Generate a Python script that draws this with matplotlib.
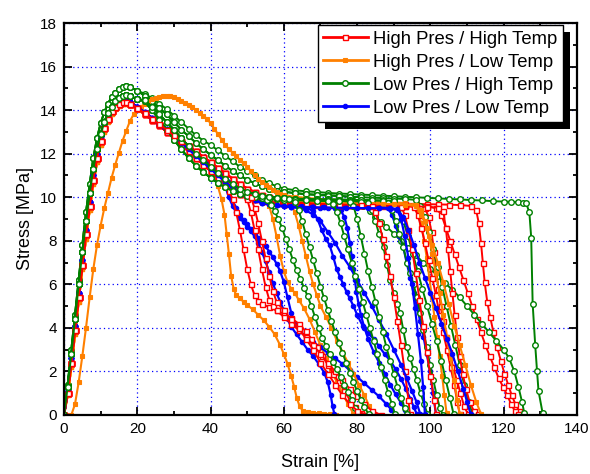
import matplotlib
matplotlib.use('Agg')
import matplotlib.pyplot as plt
from matplotlib.patches import Rectangle
from matplotlib.lines import Line2D
from matplotlib.ticker import MultipleLocator

plt.rcParams['font.family'] = ['Liberation Sans', 'DejaVu Sans']

# ---------------- data (strain %, stress MPa) ----------------
rise_x = [0, 1, 2, 3, 4, 5, 6, 7, 8, 9, 10, 11, 12, 13, 14, 15, 16, 17, 18, 20]
red_rise_y = [0, 1.0, 2.4, 3.9, 5.4, 6.9, 8.3, 9.6, 10.8, 11.8, 12.6, 13.2, 13.6, 13.95, 14.15, 14.3, 14.35, 14.35, 14.3, 14.1]
orange_rise_y = [0, 0.9, 2.2, 3.7, 5.2, 6.7, 8.1, 9.4, 10.6, 11.6, 12.4, 13.0, 13.45, 13.8, 14.05, 14.2, 14.3, 14.3, 14.25, 14.05]
green_rise_hi_y = [0, 1.4, 3.0, 4.6, 6.2, 7.8, 9.3, 10.6, 11.8, 12.7, 13.4, 13.9, 14.3, 14.6, 14.8, 14.95, 15.05, 15.1, 15.05, 14.9]
green_rise_lo_y = [0, 1.3, 2.8, 4.4, 6.0, 7.5, 8.9, 10.2, 11.3, 12.2, 12.9, 13.45, 13.85, 14.15, 14.4, 14.55, 14.65, 14.7, 14.65, 14.5]
blue_rise_y = [0, 1.1, 2.6, 4.1, 5.6, 7.1, 8.5, 9.8, 11.0, 12.0, 12.8, 13.35, 13.75, 14.05, 14.25, 14.35, 14.4, 14.4, 14.35, 14.15]

# post-peak softening (strain 22..60)
decl_x = [22, 24, 26, 28, 30, 32, 34, 36, 38, 40, 42, 44, 46, 48, 50, 52, 54, 56, 58, 60]
red_decl_a_y = [13.85, 13.6, 13.35, 13.1, 12.85, 12.6, 12.35, 12.1, 11.85, 11.6, 11.35, 11.1, 10.85, 10.6, 10.4, 10.25, 10.1, 10.0, 9.9, 9.85]
red_decl_b_y = [13.8, 13.55, 13.3, 13.0, 12.7, 12.4, 12.1, 11.8, 11.5, 11.2, 10.9, 10.6, 10.35, 10.15, 10.0, 9.9, 9.82, 9.77, 9.73, 9.7]
orange_decl_y = [13.8, 13.55, 13.3, 13.05, 12.8, 12.55, 12.3, 12.0, 11.7, 11.4, 11.1, 10.8, 10.55, 10.35, 10.2, 10.08, 10.0, 9.95, 9.9, 9.87]
green_decl_hi_y = [14.75, 14.55, 14.3, 14.05, 13.75, 13.45, 13.15, 12.85, 12.6, 12.4, 12.15, 11.9, 11.65, 11.4, 11.2, 11.0, 10.8, 10.65, 10.5, 10.4]
green_decl_mid_y = [14.65, 14.4, 14.1, 13.8, 13.45, 13.1, 12.8, 12.5, 12.2, 11.95, 11.7, 11.45, 11.2, 11.0, 10.8, 10.65, 10.5, 10.4, 10.3, 10.25]
green_decl_lo_y = [14.45, 14.15, 13.8, 13.45, 13.1, 12.7, 12.35, 12.0, 11.7, 11.4, 11.1, 10.85, 10.6, 10.4, 10.25, 10.15, 10.07, 10.02, 9.98, 9.95]
green_decl_lo2_y = [14.4, 14.0, 13.55, 13.1, 12.65, 12.2, 11.8, 11.45, 11.15, 10.9, 10.65, 10.45, 10.3, 10.15, 10.05, 10.0, 9.95, 9.92, 9.9, 9.88]
blue_decl_a_y = [13.9, 13.65, 13.4, 13.15, 12.9, 12.62, 12.35, 12.07, 11.8, 11.5, 11.2, 10.9, 10.62, 10.38, 10.17, 10.0, 9.87, 9.77, 9.7, 9.65]
blue_decl_b_y = [13.85, 13.6, 13.33, 13.05, 12.78, 12.5, 12.2, 11.9, 11.6, 11.3, 11.0, 10.7, 10.42, 10.2, 10.0, 9.85, 9.75, 9.67, 9.62, 9.58]

# High Pres / High Temp (red) - plateau and failure
r1_x = [63, 66, 69, 72, 75, 78, 81, 84, 87, 90, 93, 96, 99, 102, 105, 108, 111, 112.5, 113.2, 113.8, 114.3, 114.8, 115.5, 116.3, 117.2, 118.2, 119.2, 120.2, 121.2, 122.2, 123.2, 124.2, 125]
r1_y = [9.82, 9.8, 9.78, 9.76, 9.75, 9.74, 9.73, 9.72, 9.71, 9.7, 9.7, 9.69, 9.68, 9.67, 9.66, 9.64, 9.6, 9.4, 8.8, 7.9, 7.0, 6.1, 5.2, 4.5, 3.8, 3.1, 2.5, 1.9, 1.4, 0.9, 0.5, 0.2, 0.05]
r2_x = [63, 66, 69, 72, 75, 78, 81, 84, 87, 90, 93, 96, 99, 101.5, 103, 104.2, 105.4, 106.6, 107.8, 109, 110.2, 111.4, 112.6, 113.8, 115, 116.2, 117.4, 118.6, 119.8, 121, 122, 123, 123.8]
r2_y = [9.75, 9.72, 9.7, 9.69, 9.68, 9.67, 9.66, 9.65, 9.64, 9.63, 9.62, 9.6, 9.58, 9.5, 9.2, 8.6, 8.0, 7.4, 6.8, 6.2, 5.6, 5.0, 4.4, 3.8, 3.2, 2.7, 2.2, 1.7, 1.3, 0.9, 0.5, 0.2, 0.05]
r3_x = [63, 66, 69, 72, 75, 78, 81, 84, 87, 90, 93, 96, 98.5, 99.5, 100.3, 101, 101.6, 102.2, 102.8, 103.5, 104.3, 105.2, 106.2, 107.2, 108.2, 109.2, 110.2]
r3_y = [9.72, 9.7, 9.68, 9.67, 9.66, 9.65, 9.64, 9.63, 9.62, 9.61, 9.6, 9.58, 9.5, 9.1, 8.4, 7.5, 6.6, 5.8, 5.0, 4.3, 3.6, 2.9, 2.2, 1.6, 1.0, 0.4, 0.05]
r4_x = [63, 66, 69, 72, 75, 78, 81, 84, 87, 90, 93, 96, 99, 102, 103.5, 104.2, 104.8, 105.4, 106, 106.6, 107.3, 108, 108.8, 109.7, 110.7, 111.8, 112.9]
r4_y = [9.7, 9.68, 9.66, 9.65, 9.64, 9.63, 9.62, 9.61, 9.6, 9.6, 9.59, 9.58, 9.56, 9.52, 9.35, 8.6, 7.6, 6.6, 5.6, 4.6, 3.6, 2.7, 1.9, 1.2, 0.6, 0.2, 0.03]
r5_x = [63, 66, 69, 72, 75, 78, 81, 84, 87, 90, 93, 95.5, 96.5, 97.5, 98.5, 99.5, 100.5, 101.5, 102.5, 103.5, 104.5, 105.5, 106.5, 107.3, 108]
r5_y = [9.78, 9.74, 9.71, 9.69, 9.68, 9.67, 9.66, 9.65, 9.64, 9.63, 9.62, 9.55, 9.2, 8.6, 7.9, 7.1, 6.3, 5.5, 4.6, 3.8, 3.0, 2.2, 1.4, 0.6, 0.05]
r6_x = [63, 66, 69, 72, 75, 78, 81, 84, 87, 90, 92, 93, 94, 95, 96, 97, 98, 99, 100, 101, 101.5]
r6_y = [9.75, 9.72, 9.7, 9.68, 9.66, 9.65, 9.64, 9.63, 9.62, 9.6, 9.55, 9.2, 8.5, 7.6, 6.5, 5.3, 4.1, 2.9, 1.8, 0.7, 0.05]
r7_x = [63, 66, 69, 72, 75, 78, 81, 84, 85, 86, 87, 88, 89, 90, 91, 92, 93, 94, 94.4]
r7_y = [9.75, 9.72, 9.7, 9.68, 9.66, 9.65, 9.63, 9.58, 9.3, 8.8, 8.1, 7.3, 6.4, 5.4, 4.3, 3.2, 2.0, 0.7, 0.05]
r8_x = [45, 46, 47, 48, 49, 50, 51, 52, 53, 54, 56, 58, 60, 62, 64, 66, 67.5, 69, 70.5, 72, 73.5, 75, 76.5, 78, 79.5, 81, 81.6]
r8_y = [10.3, 9.9, 9.3, 8.5, 7.6, 6.7, 6.0, 5.5, 5.25, 5.1, 4.95, 4.8, 4.65, 4.45, 4.2, 3.85, 3.5, 3.1, 2.7, 2.3, 1.9, 1.5, 1.1, 0.7, 0.35, 0.08, 0.0]
r9_x = [49, 50, 51, 52, 53, 54, 55, 56, 57, 58, 60, 62, 64, 66, 68, 70, 72, 74, 76, 78, 80, 82, 84, 86.5]
r9_y = [10.3, 9.9, 9.3, 8.5, 7.6, 6.7, 5.9, 5.3, 5.0, 4.8, 4.5, 4.2, 3.9, 3.6, 3.2, 2.8, 2.4, 2.0, 1.6, 1.2, 0.85, 0.5, 0.2, 0.0]
r10_x = [51, 52, 53, 54, 55, 56, 57, 58, 60, 62, 64, 66, 68, 70, 72, 74, 76, 78, 80, 82.5]
r10_y = [10.0, 9.5, 8.8, 8.0, 7.2, 6.4, 5.7, 5.2, 4.8, 4.4, 4.0, 3.5, 3.0, 2.4, 1.9, 1.4, 0.9, 0.5, 0.2, 0.0]

# High Pres / Low Temp (orange)
o1_x = [41, 42, 43, 43.8, 44.4, 45, 45.6, 46.3, 47, 48, 49, 50, 51.5, 53, 54.5, 56, 57.5, 59, 60, 61, 62, 62.8, 63.5, 64.3, 65.2, 66.5, 68, 69.5, 71, 72.5, 74.3]
o1_y = [11.0, 10.5, 9.9, 9.2, 8.3, 7.4, 6.4, 5.8, 5.5, 5.35, 5.2, 5.05, 4.85, 4.6, 4.35, 4.05, 3.7, 3.2, 2.8, 2.35, 1.8, 1.3, 0.8, 0.4, 0.18, 0.12, 0.1, 0.08, 0.06, 0.04, 0.02]
o2_x = [55, 56, 57, 58, 59, 60, 61, 62, 63, 64, 65.5, 67, 68.5, 70, 71.5, 73, 74.5, 76, 77.5, 79]
o2_y = [9.9, 9.6, 9.0, 8.2, 7.3, 6.6, 6.1, 5.8, 5.6, 5.3, 4.9, 4.4, 3.8, 3.2, 2.6, 2.0, 1.5, 1.0, 0.5, 0.05]
o3_x = [61, 62, 63, 64, 65, 66, 67, 68, 69, 70, 71.5, 73, 74.5, 76, 77.5, 79, 80.5, 82, 83.3, 84.6]
o3_y = [9.85, 9.7, 9.3, 8.7, 8.0, 7.3, 6.6, 6.0, 5.5, 5.0, 4.5, 4.0, 3.4, 2.9, 2.4, 1.9, 1.4, 0.9, 0.4, 0.05]
o4_x = [2, 3, 4, 5, 6, 7, 8, 9, 10, 11, 12, 13, 14, 15, 16, 17, 18, 19, 20, 21, 22, 23, 24, 25, 26, 27, 28, 29, 30,
        31, 32, 33, 34, 35, 36, 37, 38, 39, 40, 41, 42, 43, 44, 45, 46, 47, 48, 49, 50, 51, 52, 53, 54, 55, 56, 57, 58, 59, 60,
        63, 66, 69, 72, 75, 78, 81, 84, 87, 90, 93, 95.5, 96.5, 97.5, 98.3, 99, 99.7, 100.4, 101.1, 101.8, 102.5, 103.2, 103.8, 104.4]
o4_y = [0, 0.5, 1.5, 2.7, 4.0, 5.4, 6.7, 7.8, 8.7, 9.5, 10.2, 10.9, 11.5, 12.05, 12.6, 13.05, 13.5, 13.8, 14.0, 14.15, 14.3, 14.4, 14.5, 14.55, 14.6, 14.63, 14.65, 14.63, 14.58,
        14.5, 14.42, 14.34, 14.25, 14.13, 14.0, 13.88, 13.75, 13.6, 13.4, 13.15, 12.9, 12.65, 12.4, 12.2, 12.05, 11.88, 11.7, 11.55, 11.4, 11.2, 11.0, 10.85, 10.7, 10.57, 10.45, 10.35, 10.25, 10.17, 10.1,
        10.02, 9.97, 9.93, 9.9, 9.87, 9.85, 9.82, 9.8, 9.78, 9.76, 9.73, 9.65, 9.4, 8.8, 8.0, 7.2, 6.3, 5.4, 4.5, 3.6, 2.7, 1.8, 0.9, 0.1]
o5_x = [63, 66, 69, 72, 75, 78, 81, 84, 87, 90, 93, 96, 97.5, 98.5, 99.5, 100.5, 101.5, 102.5, 103.5, 104.5, 105.5, 106.5, 107.3, 108]
o5_y = [9.83, 9.8, 9.78, 9.76, 9.74, 9.72, 9.71, 9.7, 9.69, 9.68, 9.66, 9.62, 9.4, 8.9, 8.2, 7.4, 6.5, 5.6, 4.6, 3.6, 2.6, 1.6, 0.7, 0.05]
o6_x = [63, 66, 69, 72, 75, 78, 81, 84, 87, 90, 93, 96, 97.5, 99, 100.5, 102, 103.5, 105, 106.5, 108, 109.5, 111, 112.5, 113.8]
o6_y = [9.85, 9.82, 9.8, 9.78, 9.76, 9.74, 9.72, 9.71, 9.7, 9.68, 9.66, 9.6, 9.2, 8.6, 7.8, 7.0, 6.1, 5.1, 4.1, 3.2, 2.3, 1.4, 0.6, 0.05]

# Low Pres / High Temp (green)
g1_x = [63, 66, 69, 72, 75, 78, 81, 84, 87, 90, 93, 96, 99, 102, 105, 108, 111, 114, 117, 120, 122, 124, 125.2, 126.1, 127, 127.5, 127.9, 128.6, 129.1, 129.5, 130.6]
g1_y = [10.32, 10.27, 10.24, 10.2, 10.17, 10.15, 10.12, 10.1, 10.07, 10.05, 10.02, 10.0, 9.97, 9.95, 9.92, 9.9, 9.87, 9.85, 9.82, 9.8, 9.79, 9.77, 9.75, 9.74, 9.3, 8.15, 5.1, 3.2, 2.0, 1.1, 0.1]
g2_x = [63, 66, 69, 72, 75, 78, 80, 81.7, 83.5, 85, 86.5, 88, 90, 92, 94, 96, 98, 100, 102, 104, 106, 108, 110, 112, 114, 116, 118, 120, 121.5, 122.9, 124, 125, 125.6]
g2_y = [10.2, 10.15, 10.12, 10.1, 10.07, 10.03, 9.9, 9.6, 9.35, 9.1, 8.88, 8.65, 8.33, 8.0, 7.68, 7.35, 7.0, 6.7, 6.4, 6.05, 5.75, 5.4, 5.0, 4.6, 4.2, 3.8, 3.4, 3.0, 2.6, 2.0, 1.3, 0.6, 0.1]
g3_x = [63, 66, 69, 72, 75, 78, 81, 84, 87, 90, 93, 96, 97.2, 98.4, 99.6, 100.8, 102, 103.2, 104.4, 105.6, 106.8, 108, 109.2, 110.4, 111.5]
g3_y = [10.18, 10.13, 10.1, 10.07, 10.05, 10.02, 10.0, 9.98, 9.96, 9.94, 9.92, 9.88, 9.6, 9.1, 8.4, 7.6, 6.8, 5.9, 5.0, 4.1, 3.2, 2.3, 1.4, 0.6, 0.05]
g4_x = [63, 66, 69, 72, 75, 78, 81, 84, 87, 90, 91.3, 92.6, 93.9, 95.2, 96.5, 97.8, 99.1, 100.4, 101.7, 103, 104.2, 105.3, 106.3]
g4_y = [9.93, 9.92, 9.9, 9.9, 9.89, 9.88, 9.87, 9.86, 9.85, 9.82, 9.5, 8.9, 8.2, 7.4, 6.6, 5.8, 5.0, 4.2, 3.4, 2.5, 1.6, 0.8, 0.05]
g5_x = [63, 66, 69, 72, 75, 78, 81, 84, 87, 88.5, 89.5, 90.5, 91.5, 92.6, 93.6, 94.5, 95.4, 96.3, 97.2, 98.1, 99, 99.9, 100.8, 101.7, 102.6, 103.4]
g5_y = [9.93, 9.92, 9.9, 9.9, 9.89, 9.88, 9.87, 9.86, 9.84, 9.75, 9.4, 8.9, 8.3, 7.7, 7.0, 6.5, 6.0, 5.4, 4.7, 3.9, 3.1, 2.3, 1.6, 0.9, 0.3, 0.02]
g6_x = [63, 66, 69, 72, 75, 78, 81, 83, 84, 85, 86, 87.2, 88.1, 89, 90, 91, 91.7, 92.6, 93.5, 94.5, 95.4, 96.3, 97.3, 98.3, 99.2]
g6_y = [9.87, 9.86, 9.85, 9.84, 9.83, 9.82, 9.8, 9.72, 9.4, 8.9, 8.3, 7.7, 6.9, 6.2, 5.6, 5.1, 4.7, 3.9, 3.1, 2.6, 2.1, 1.6, 1.0, 0.5, 0.03]
g7_x = [63, 66, 69, 72, 75, 78, 79, 80, 81, 82, 83, 84, 85, 86, 87, 88, 89, 90, 91, 92, 93, 93.5]
g7_y = [9.93, 9.9, 9.88, 9.86, 9.84, 9.8, 9.6, 9.0, 8.2, 7.4, 6.6, 5.9, 5.2, 4.5, 3.8, 3.1, 2.5, 1.9, 1.3, 0.8, 0.3, 0.05]
g8_x = [63, 66, 69, 72, 73.5, 74.5, 75.5, 76.5, 77.5, 78.5, 79.5, 80.5, 81.5, 82.5, 83.5, 84.5, 85.5, 86.5, 87.5, 88.5, 89.5, 90.3]
g8_y = [9.87, 9.85, 9.84, 9.82, 9.7, 9.3, 8.8, 8.2, 7.6, 7.0, 6.4, 5.8, 5.2, 4.6, 4.0, 3.4, 2.8, 2.2, 1.6, 1.0, 0.5, 0.05]
g9_x = [55.5, 56.5, 57.5, 58.5, 59.5, 60.5, 61.5, 62.5, 63.5, 64.5, 65.5, 66.5, 67.5, 68.5, 69.5, 70.5, 71.5, 72.5, 73.5, 74.5, 75.5, 76.5, 77.5, 78.5, 79.5, 80.2]
g9_y = [9.85, 9.65, 9.35, 9.0, 8.6, 8.1, 7.6, 7.1, 6.65, 6.25, 5.85, 5.45, 5.0, 4.5, 4.0, 3.55, 3.15, 2.8, 2.45, 2.1, 1.75, 1.4, 1.05, 0.7, 0.3, 0.03]
g10_x = [61.5, 63, 64, 65, 66, 67, 68, 69, 70, 71, 72, 73, 74, 75, 76, 77, 78, 79, 80, 81, 82, 83.2]
g10_y = [9.93, 9.8, 9.4, 8.9, 8.3, 7.7, 7.1, 6.5, 5.9, 5.35, 4.8, 4.3, 3.8, 3.3, 2.85, 2.4, 1.95, 1.5, 1.1, 0.7, 0.35, 0.03]

# Low Pres / Low Temp (blue)
b1_x = [43, 44, 45, 46, 47, 48, 49, 50, 51, 52, 53, 54, 55, 56, 57, 58, 59, 60, 61, 62, 63.5, 65, 66.5, 68, 69.5, 71, 72, 72.8, 73.3, 73.8]
b1_y = [10.9, 10.5, 10.0, 9.6, 9.3, 9.05, 8.85, 8.65, 8.45, 8.2, 7.9, 7.5, 7.05, 6.55, 6.05, 5.6, 5.2, 4.8, 4.4, 4.05, 3.7, 3.35, 3.0, 2.7, 2.35, 1.95, 1.5, 0.9, 0.4, 0.03]
b2_x = [45, 46, 47, 48, 49, 50, 51, 52, 53, 54, 55, 56, 57, 58, 59, 60, 61, 62, 63, 64.5, 66, 68, 70, 72, 74, 76, 78, 80, 82, 84, 86, 88, 89.3, 90.3]
b2_y = [10.3, 9.85, 9.5, 9.2, 8.95, 8.75, 8.55, 8.35, 8.15, 7.95, 7.75, 7.5, 7.25, 6.95, 6.6, 6.1, 5.4, 4.7, 4.2, 3.85, 3.6, 3.35, 3.1, 2.85, 2.6, 2.35, 2.05, 1.75, 1.45, 1.15, 0.85, 0.5, 0.25, 0.02]
b3_x = [62, 64, 66, 68, 69.2, 70.3, 71.4, 72.5, 73.5, 74.4, 75.3, 76.2, 77.1, 78, 79, 80, 81.5, 83, 84.5, 86, 87.5, 89, 90.5, 92, 93.3, 94.5, 95.5, 96.3]
b3_y = [9.62, 9.6, 9.55, 9.35, 9.0, 8.5, 8.1, 7.8, 7.25, 6.7, 6.35, 6.0, 5.65, 5.35, 5.0, 4.6, 4.1, 3.75, 3.5, 3.15, 2.8, 2.5, 2.1, 1.65, 1.2, 0.75, 0.35, 0.03]
b4_x = [62, 64, 66, 68, 70, 72, 74, 75.5, 76.5, 77.3, 78, 78.5, 78.9, 79.4, 79.8, 80.4, 81, 82, 83, 84.5, 86, 87.5, 89, 90.5, 92, 93, 94]
b4_y = [9.56, 9.55, 9.54, 9.53, 9.52, 9.51, 9.5, 9.4, 9.1, 8.6, 7.9, 7.3, 6.7, 6.2, 5.65, 5.1, 4.6, 4.0, 3.5, 2.9, 2.4, 1.9, 1.4, 0.95, 0.55, 0.25, 0.02]
b5_x = [62, 65, 68, 71, 74, 77, 80, 83, 86, 88.5, 89.5, 90.5, 91.5, 92.6, 93.5, 94.5, 95.4, 96.3, 97.2, 98.1, 99, 99.9, 100.7, 101.5]
b5_y = [9.62, 9.6, 9.59, 9.58, 9.57, 9.56, 9.56, 9.55, 9.55, 9.5, 9.2, 8.7, 8.2, 7.7, 7.0, 6.3, 5.6, 5.0, 4.3, 3.6, 2.8, 2.0, 1.0, 0.05]
b6_x = [62, 65, 68, 71, 74, 77, 80, 83, 86, 89, 91, 92.5, 94, 95.5, 97, 98.5, 100, 101.5, 103, 104.5, 106, 107.5, 109, 110, 111]
b6_y = [9.62, 9.6, 9.58, 9.57, 9.56, 9.55, 9.54, 9.53, 9.52, 9.51, 9.45, 9.1, 8.5, 7.8, 7.0, 6.3, 5.6, 4.9, 4.2, 3.5, 2.8, 2.0, 1.2, 0.6, 0.03]
b7_x = [62, 64, 66, 68, 70, 72, 74, 76, 78, 80, 82, 84, 86, 88, 90, 92, 93.5, 95, 96.2, 97.2]
b7_y = [9.55, 9.5, 9.4, 9.2, 8.9, 8.4, 7.9, 7.3, 6.8, 6.2, 5.6, 5.0, 4.35, 3.7, 3.0, 2.3, 1.7, 1.1, 0.6, 0.05]
b8_x = [62, 65, 68, 71, 74, 77, 80, 83, 86, 89, 91, 92, 93, 94, 95, 95.8, 96.6, 97.4, 98, 98.5]
b8_y = [9.56, 9.55, 9.54, 9.53, 9.52, 9.51, 9.5, 9.5, 9.49, 9.48, 9.4, 9.0, 8.2, 7.2, 6.0, 4.9, 3.7, 2.5, 1.3, 0.05]

labels = ['High Pres / High Temp', 'High Pres / Low Temp', 'Low Pres / High Temp', 'Low Pres / Low Temp']
x_ticks = [0, 20, 40, 60, 80, 100, 120, 140]
y_ticks = [0, 2, 4, 6, 8, 10, 12, 14, 16, 18]

# ---------------- styles ----------------
RED, ORANGE, GREEN, BLUE = '#FF0000', '#FF8000', '#008000', '#0000FF'
styles = {
    'red': dict(color=RED, marker='s', ms=3.6, mfc='white', mec=RED, mew=1.0, lw=1.4),
    'orange': dict(color=ORANGE, marker='s', ms=3.4, mfc=ORANGE, mec=ORANGE, mew=0.8, lw=1.5),
    'green': dict(color=GREEN, marker='o', ms=4.0, mfc='white', mec=GREEN, mew=1.0, lw=1.4),
    'blue': dict(color=BLUE, marker='o', ms=3.2, mfc=BLUE, mec=BLUE, mew=0.8, lw=1.6),
}


def curve(rise_y, decl_y, n_decl, tx, ty):
    """rise + first n_decl softening points + own tail"""
    x = rise_x + (decl_x[:n_decl] if decl_y else []) + tx
    y = rise_y + (decl_y[:n_decl] if decl_y else []) + ty
    return x, y


N = len(decl_x)
red_curves = [curve(red_rise_y, red_decl_a_y, N, r1_x, r1_y),
              curve(red_rise_y, red_decl_b_y, N, r2_x, r2_y),
              curve(red_rise_y, red_decl_b_y, N, r3_x, r3_y),
              curve(red_rise_y, red_decl_b_y, N, r4_x, r4_y),
              curve(red_rise_y, red_decl_a_y, N, r5_x, r5_y),
              curve(red_rise_y, red_decl_a_y, N, r6_x, r6_y),
              curve(red_rise_y, red_decl_b_y, N, r7_x, r7_y),
              curve(red_rise_y, red_decl_b_y, 12, r8_x, r8_y),
              curve(red_rise_y, red_decl_a_y, 14, r9_x, r9_y),
              curve(red_rise_y, red_decl_a_y, 15, r10_x, r10_y)]
orange_curves = [curve(orange_rise_y, orange_decl_y, 10, o1_x, o1_y),
                 curve(orange_rise_y, orange_decl_y, 17, o2_x, o2_y),
                 curve(orange_rise_y, orange_decl_y, N, o3_x, o3_y),
                 (o4_x, o4_y),
                 curve(orange_rise_y, orange_decl_y, N, o5_x, o5_y),
                 curve(orange_rise_y, orange_decl_y, N, o6_x, o6_y)]
green_curves = [curve(green_rise_hi_y, green_decl_hi_y, N, g1_x, g1_y),
                curve(green_rise_hi_y, green_decl_mid_y, N, g2_x, g2_y),
                curve(green_rise_hi_y, green_decl_mid_y, N, g3_x, g3_y),
                curve(green_rise_lo_y, green_decl_lo_y, N, g4_x, g4_y),
                curve(green_rise_lo_y, green_decl_lo_y, N, g5_x, g5_y),
                curve(green_rise_lo_y, green_decl_lo2_y, N, g6_x, g6_y),
                curve(green_rise_lo_y, green_decl_lo_y, N, g7_x, g7_y),
                curve(green_rise_lo_y, green_decl_lo2_y, N, g8_x, g8_y),
                curve(green_rise_lo_y, green_decl_lo2_y, 17, g9_x, g9_y),
                curve(green_rise_lo_y, green_decl_lo_y, N, g10_x, g10_y)]
blue_curves = [curve(blue_rise_y, blue_decl_a_y, 11, b1_x, b1_y),
               curve(blue_rise_y, blue_decl_b_y, 12, b2_x, b2_y),
               curve(blue_rise_y, blue_decl_a_y, N, b3_x, b3_y),
               curve(blue_rise_y, blue_decl_b_y, N, b4_x, b4_y),
               curve(blue_rise_y, blue_decl_a_y, N, b5_x, b5_y),
               curve(blue_rise_y, blue_decl_a_y, N, b6_x, b6_y),
               curve(blue_rise_y, blue_decl_b_y, N, b7_x, b7_y),
               curve(blue_rise_y, blue_decl_b_y, N, b8_x, b8_y)]

fig = plt.figure(figsize=(5.9, 4.74), dpi=100)
ax = fig.add_axes([64 / 590, 59 / 474, 513 / 590, 392 / 474])

groups = [('red', red_curves), ('orange', orange_curves), ('blue', blue_curves), ('green', green_curves)]
nmax = max(len(c) for _, c in groups)
for i in range(nmax):
    for key, curves in groups:
        if i < len(curves):
            x, y = curves[i]
            ax.plot(x, y, zorder=2, **styles[key])

ax.set_xlim(0, 140)
ax.set_ylim(0, 18)
ax.set_xticks(x_ticks)
ax.set_yticks(y_ticks)
ax.xaxis.set_minor_locator(MultipleLocator(10))
ax.yaxis.set_minor_locator(MultipleLocator(1))
ax.tick_params(which='both', direction='in', top=True, right=True, labelsize=11, width=1.3, colors='black')
ax.tick_params(which='major', length=6, pad=5)
ax.tick_params(which='minor', length=3)
for s in ax.spines.values():
    s.set_linewidth(1.6)

ax.grid(True, which='major', color=BLUE, linestyle=(0, (1, 2.5)), linewidth=0.9, zorder=1)
ax.set_axisbelow(True)

ax.set_xlabel('Strain [%]', fontsize=13, labelpad=13)
ax.set_ylabel('Stress [MPa]', fontsize=13, labelpad=4)

handles = [Line2D([0], [0], **styles[k]) for k in ['red', 'orange', 'green', 'blue']]
for h in handles:
    h.set_linewidth(2)
leg = ax.legend(handles, labels, loc='upper right', bbox_to_anchor=(0.9727, 0.9949),
                borderaxespad=0, fontsize=13.3, frameon=True, fancybox=False,
                edgecolor='black', framealpha=1, numpoints=1, handlelength=2.4,
                handletextpad=0.3, labelspacing=0.33, borderpad=0.3)
leg.get_frame().set_linewidth(1.0)
leg.set_zorder(6)

fig.canvas.draw()
bb = leg.get_frame().get_window_extent()
inv = ax.transAxes.inverted()
(x0, y0) = inv.transform((bb.x0 + 7, bb.y0 - 7))
(x1, y1) = inv.transform((bb.x1 + 7, bb.y1 - 7))
shadow = Rectangle((x0, y0), x1 - x0, y1 - y0, transform=ax.transAxes,
                   facecolor='black', edgecolor='none', zorder=5.5, clip_on=False)
ax.add_artist(shadow)

fig.savefig('out.png', dpi=100)
